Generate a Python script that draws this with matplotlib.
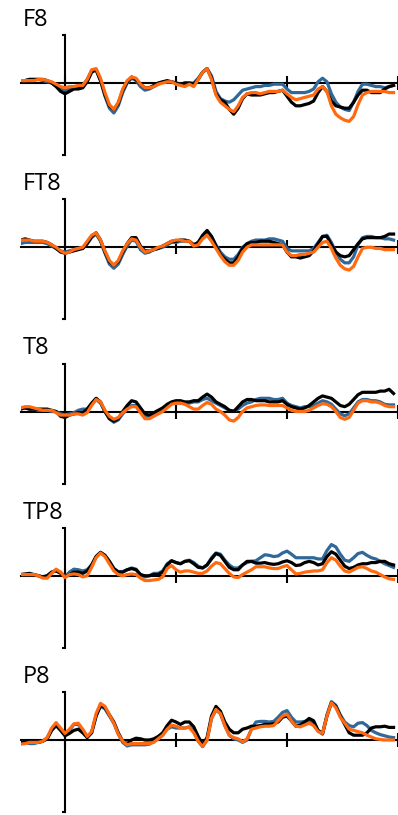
import numpy as np
import matplotlib
matplotlib.use('Agg')
import matplotlib.pyplot as plt

# time axis in ms, one sample every 10 ms
times = np.arange(-100, 741, 10)

channels = ["F8", "FT8", "T8", "TP8", "P8"]

f8_black = [0.1, 0.2, 0.3, 0.3, 0.3, 0.3, 0.2, 0.0,
            -0.3, -0.7, -0.9, -0.7, -0.5, -0.5, -0.4, 0.1, 0.9, 1.1,
            0.2, -1.0, -1.9, -2.2, -1.7, -0.6, 0.1, 0.5, 0.3, -0.1,
            -0.4, -0.4, -0.2, 0.0, 0.1, 0.2, 0.1, 0.0, -0.1, 0.0,
            0.0, -0.1, 0.3, 0.9, 1.2, 0.4, -0.9, -1.4, -1.6, -2.2,
            -2.6, -2.1, -1.3, -0.9, -1.0, -1.0, -1.0, -0.9, -0.8, -0.8,
            -0.7, -0.6, -1.1, -1.6, -1.9, -1.9, -1.8, -1.7, -1.5, -0.8,
            -0.3, -0.7, -1.5, -1.9, -2.0, -2.1, -2.1, -1.6, -1.0, -0.6,
            -0.6, -0.8, -0.8, -0.8, -0.5, -0.3, -0.2]
f8_blue = [0.1, 0.2, 0.3, 0.3, 0.3, 0.2, 0.1, 0.0,
           -0.2, -0.5, -0.6, -0.5, -0.4, -0.3, -0.2, 0.3, 1.0, 1.1,
           0.2, -1.1, -2.1, -2.5, -1.9, -0.8, 0.0, 0.4, 0.2, -0.3,
           -0.6, -0.5, -0.3, -0.1, 0.1, 0.1, 0.1, 0.0, -0.1, 0.0,
           0.0, 0.0, 0.4, 0.9, 1.2, 0.6, -0.7, -1.3, -1.5, -1.6,
           -1.4, -1.0, -0.6, -0.5, -0.4, -0.3, -0.3, -0.2, -0.2, -0.1,
           -0.1, -0.1, -0.5, -0.8, -0.8, -0.8, -0.8, -0.7, -0.5, 0.1,
           0.4, 0.1, -0.9, -1.6, -2.0, -2.2, -2.3, -1.6, -0.7, -0.1,
           -0.1, -0.2, -0.3, -0.3, -0.4, -0.3, -0.2]
f8_orange = [0.2, 0.2, 0.2, 0.2, 0.3, 0.3, 0.2, 0.1,
             -0.1, -0.3, -0.4, -0.3, -0.3, -0.2, -0.2, 0.3, 1.1, 1.2,
             0.4, -0.8, -1.8, -2.2, -1.6, -0.5, 0.2, 0.5, 0.4, -0.1,
             -0.4, -0.4, -0.3, -0.1, 0.0, 0.1, 0.1, -0.1, -0.2, -0.3,
             -0.1, -0.3, 0.3, 0.9, 1.2, 0.3, -1.0, -1.6, -1.9, -2.2,
             -2.4, -1.9, -1.2, -0.9, -0.8, -0.8, -0.9, -0.8, -0.7, -0.7,
             -0.7, -0.6, -0.9, -1.2, -1.4, -1.3, -1.2, -1.1, -1.0, -0.5,
             -0.3, -0.7, -1.9, -2.6, -2.9, -3.1, -3.2, -2.8, -1.8, -1.0,
             -0.8, -0.7, -0.7, -0.7, -0.7, -0.8, -0.8]

ft8_black = [0.6, 0.7, 0.6, 0.5, 0.5, 0.5, 0.4, 0.2,
             -0.1, -0.4, -0.5, -0.4, -0.3, -0.2, -0.1, 0.3, 0.9, 1.2,
             0.6, -0.4, -1.2, -1.5, -1.2, -0.4, 0.3, 0.8, 0.8, 0.1,
             -0.3, -0.3, -0.2, -0.1, 0.1, 0.3, 0.5, 0.5, 0.6, 0.6,
             0.5, 0.2, 0.4, 1.0, 1.4, 0.9, 0.1, -0.6, -1.0, -1.3,
             -1.3, -0.8, -0.1, 0.3, 0.4, 0.4, 0.5, 0.5, 0.5, 0.4,
             0.3, 0.2, -0.4, -0.8, -0.8, -0.9, -0.8, -0.7, -0.3, 0.3,
             0.9, 0.9, 0.2, -0.4, -0.7, -0.8, -0.7, -0.2, 0.3, 0.7,
             0.8, 0.8, 0.8, 0.8, 0.9, 1.1, 1.1]
ft8_blue = [0.3, 0.4, 0.4, 0.4, 0.4, 0.4, 0.3, 0.1,
            -0.1, -0.3, -0.4, -0.3, -0.2, -0.1, -0.1, 0.3, 0.8, 1.1,
            0.5, -0.5, -1.4, -1.75, -1.4, -0.6, 0.1, 0.6, 0.5, -0.2,
            -0.5, -0.4, -0.2, -0.1, 0.0, 0.2, 0.4, 0.4, 0.5, 0.5,
            0.5, 0.2, 0.4, 0.9, 1.3, 0.9, 0.2, -0.4, -0.8, -1.0,
            -1.0, -0.6, 0.0, 0.3, 0.5, 0.6, 0.6, 0.6, 0.7, 0.7,
            0.6, 0.5, -0.1, -0.3, -0.3, -0.3, -0.3, -0.3, -0.1, 0.4,
            0.9, 1.0, 0.4, -0.4, -1.0, -1.3, -1.3, -0.8, 0.2, 0.8,
            0.9, 0.9, 0.8, 0.8, 0.7, 0.7, 0.6]
ft8_orange = [0.6, 0.6, 0.6, 0.5, 0.5, 0.5, 0.4, 0.2,
              0.0, -0.3, -0.5, -0.4, -0.2, -0.1, 0.0, 0.5, 1.0, 1.2,
              0.6, -0.3, -1.1, -1.5, -1.1, -0.3, 0.3, 0.7, 0.6, 0.0,
              -0.4, -0.3, -0.2, 0.0, 0.1, 0.3, 0.5, 0.6, 0.6, 0.5,
              0.5, 0.1, 0.2, 0.7, 1.0, 0.5, -0.1, -0.7, -1.2, -1.5,
              -1.5, -1.1, -0.4, 0.0, 0.2, 0.2, 0.2, 0.2, 0.2, 0.2,
              0.2, 0.2, -0.4, -0.7, -0.7, -0.6, -0.6, -0.5, -0.4, 0.0,
              0.4, 0.5, -0.1, -0.9, -1.5, -1.8, -1.9, -1.6, -0.8, -0.1,
              0.0, 0.0, -0.1, -0.1, -0.2, -0.2, -0.2]

t8_black = [0.2, 0.3, 0.2, 0.2, 0.2, 0.2, 0.2, 0.1,
            0.0, -0.4, -0.5, -0.3, -0.2, -0.1, -0.1, 0.2, 0.7, 1.1,
            0.8, 0.0, -0.6, -0.8, -0.6, 0.0, 0.5, 0.9, 0.8, 0.3,
            -0.2, -0.3, -0.1, 0.1, 0.3, 0.6, 0.8, 0.9, 0.9, 0.8,
            0.8, 0.9, 0.9, 1.2, 1.45, 1.2, 0.8, 0.6, 0.4, 0.1,
            0.0, 0.4, 0.8, 1.0, 1.0, 0.9, 0.9, 0.9, 0.8, 0.8,
            0.8, 0.9, 0.6, 0.4, 0.3, 0.2, 0.3, 0.5, 0.8, 1.1,
            1.3, 1.2, 1.1, 0.8, 0.5, 0.4, 0.6, 1.0, 1.4, 1.6,
            1.6, 1.6, 1.6, 1.7, 1.7, 1.85, 1.5]
t8_blue = [0.2, 0.3, 0.2, 0.2, 0.1, 0.1, 0.1, 0.0,
           0.0, -0.2, -0.3, -0.2, -0.1, 0.1, 0.2, 0.2, 0.6, 1.0,
           0.7, 0.0, -0.6, -0.9, -0.7, -0.2, 0.2, 0.5, 0.5, 0.0,
           -0.5, -0.5, -0.3, -0.1, 0.1, 0.5, 0.7, 0.7, 0.7, 0.7,
           0.7, 0.8, 0.8, 1.0, 1.1, 0.9, 0.7, 0.5, 0.3, 0.1,
           0.05, 0.2, 0.5, 0.7, 0.8, 1.0, 1.1, 1.1, 1.1, 1.0,
           1.0, 1.1, 0.7, 0.5, 0.4, 0.3, 0.4, 0.4, 0.5, 0.7,
           0.9, 0.8, 0.6, 0.2, -0.2, -0.35, -0.2, 0.3, 0.8, 1.0,
           1.0, 0.9, 0.9, 0.8, 0.6, 0.55, 0.55]
t8_orange = [0.3, 0.4, 0.4, 0.3, 0.2, 0.1, 0.1, 0.1,
             -0.1, -0.3, -0.3, -0.3, -0.2, -0.2, -0.3, -0.1, 0.5, 1.0,
             0.8, 0.1, -0.4, -0.65, -0.5, -0.1, 0.2, 0.4, 0.4, -0.1,
             -0.6, -0.6, -0.4, -0.2, 0.0, 0.3, 0.6, 0.7, 0.7, 0.6,
             0.4, 0.2, 0.2, 0.5, 0.75, 0.6, 0.2, 0.0, -0.3, -0.7,
             -0.8, -0.5, 0.0, 0.3, 0.4, 0.5, 0.55, 0.55, 0.5, 0.5,
             0.5, 0.5, 0.3, 0.1, 0.0, 0.0, 0.0, 0.1, 0.3, 0.5,
             0.65, 0.6, 0.4, 0.0, -0.5, -0.65, -0.5, 0.1, 0.7, 0.9,
             0.9, 0.8, 0.8, 0.7, 0.5, 0.4, 0.4]

tp8_black = [0.1, 0.15, 0.2, 0.1, 0.0, -0.1, 0.0, 0.3,
             0.4, 0.2, -0.1, 0.1, 0.3, 0.3, 0.2, 0.4, 0.9, 1.6,
             1.95, 1.7, 1.2, 0.6, 0.3, 0.3, 0.5, 0.6, 0.5, 0.1,
             0.0, 0.0, 0.1, 0.1, 0.3, 0.9, 1.25, 1.1, 1.0, 1.2,
             1.25, 1.0, 0.7, 0.65, 0.9, 1.4, 1.85, 1.7, 1.2, 0.7,
             0.5, 0.5, 0.9, 1.2, 1.2, 1.05, 1.05, 1.1, 1.0, 0.95,
             1.0, 1.15, 1.25, 1.1, 0.85, 0.9, 1.1, 1.2, 1.1, 0.9,
             1.0, 1.6, 2.0, 1.8, 1.3, 0.8, 0.6, 0.7, 0.9, 1.0,
             1.0, 1.1, 1.1, 1.2, 1.2, 1.0, 0.9]
tp8_blue = [0.1, 0.1, 0.1, 0.1, 0.0, -0.1, 0.0, 0.3,
            0.45, 0.3, -0.1, 0.3, 0.55, 0.5, 0.4, 0.5, 0.9, 1.6,
            1.95, 1.7, 1.2, 0.6, 0.35, 0.35, 0.5, 0.65, 0.55, 0.1,
            -0.1, 0.0, 0.2, 0.2, 0.4, 1.0, 1.25, 1.1, 1.0, 1.2,
            1.3, 1.1, 0.8, 0.65, 0.9, 1.5, 1.9, 1.8, 1.3, 0.9,
            0.65, 0.65, 0.9, 1.1, 1.2, 1.25, 1.5, 1.75, 1.7, 1.6,
            1.65, 1.9, 2.05, 1.8, 1.5, 1.5, 1.5, 1.5, 1.5, 1.4,
            1.4, 2.1, 2.6, 2.4, 1.8, 1.3, 1.2, 1.5, 1.85, 1.95,
            1.7, 1.5, 1.4, 1.2, 1.0, 0.85, 0.7]
tp8_orange = [0.1, 0.1, 0.1, 0.1, 0.0, -0.2, -0.2, 0.2,
              0.55, 0.3, -0.15, 0.1, 0.15, 0.1, -0.1, 0.0, 0.7, 1.5,
              1.9, 1.6, 1.0, 0.4, 0.1, 0.0, 0.1, 0.15, 0.1, -0.2,
              -0.4, -0.4, -0.35, -0.3, -0.1, 0.6, 0.85, 0.5, 0.3, 0.4,
              0.4, 0.3, 0.2, 0.2, 0.4, 0.8, 1.1, 1.0, 0.6, 0.2,
              -0.1, -0.15, 0.1, 0.3, 0.5, 0.75, 0.75, 0.75, 0.65, 0.6,
              0.6, 0.75, 0.85, 0.5, 0.15, 0.2, 0.3, 0.35, 0.4, 0.4,
              0.5, 1.1, 1.5, 1.3, 0.8, 0.4, 0.3, 0.5, 0.7, 0.75,
              0.6, 0.4, 0.3, 0.1, -0.1, -0.25, -0.3]

p8_black = [-0.2, -0.2, -0.2, -0.2, -0.2, -0.1, 0.1, 0.8,
            1.2, 0.8, 0.35, 0.55, 0.8, 0.9, 0.6, 0.2, 0.6, 2.0,
            2.9, 2.7, 2.1, 1.5, 0.6, -0.1, -0.3, 0.0, 0.15, 0.1,
            0.0, 0.0, 0.1, 0.3, 0.6, 1.2, 1.65, 1.5, 1.3, 1.5,
            1.5, 1.1, 0.3, -0.4, 0.2, 2.0, 2.8, 2.4, 1.5, 0.9,
            0.6, 0.6, 0.9, 1.0, 1.15, 1.15, 1.2, 1.3, 1.3, 1.35,
            1.5, 1.9, 2.0, 1.6, 1.15, 1.25, 1.5, 1.8, 1.6, 0.8,
            0.5, 2.0, 3.1, 2.8, 2.0, 1.3, 0.6, 0.4, 0.4, 0.4,
            0.6, 1.0, 1.1, 1.1, 1.15, 1.05, 1.05]
p8_blue = [-0.2, -0.2, -0.3, -0.3, -0.2, -0.1, 0.2, 0.9,
           1.3, 0.9, 0.4, 0.8, 1.3, 1.3, 0.8, 0.3, 0.6, 2.0,
           2.8, 2.6, 2.0, 1.4, 0.5, -0.2, -0.5, -0.4, -0.4, -0.4,
           -0.4, -0.35, -0.1, 0.1, 0.4, 0.9, 1.1, 1.0, 1.0, 1.0,
           1.1, 0.7, -0.1, -0.55, 0.0, 1.8, 2.5, 2.2, 1.2, 0.4,
           0.1, 0.0, -0.2, 0.0, 0.9, 1.5, 1.55, 1.55, 1.5, 1.55,
           1.9, 2.3, 2.45, 1.9, 1.5, 1.5, 1.55, 1.65, 1.3, 0.8,
           0.55, 2.1, 3.2, 2.9, 2.1, 1.5, 1.2, 1.1, 1.4, 1.45,
           1.2, 0.8, 0.6, 0.45, 0.35, 0.25, 0.2]
p8_orange = [-0.35, -0.3, -0.2, -0.2, -0.2, -0.1, 0.2, 1.0,
             1.45, 1.0, 0.55, 0.9, 1.35, 1.4, 0.9, 0.3, 0.7, 2.2,
             3.05, 2.8, 2.1, 1.4, 0.5, -0.1, -0.4, -0.3, -0.3, -0.3,
             -0.3, -0.3, -0.2, 0.1, 0.4, 0.9, 1.25, 1.15, 1.0, 1.0,
             1.05, 0.6, -0.1, -0.55, 0.0, 1.8, 2.55, 2.2, 1.2, 0.4,
             0.2, 0.1, -0.15, 0.1, 0.9, 1.0, 1.1, 1.15, 1.15, 1.2,
             1.6, 2.0, 2.15, 1.6, 1.15, 1.1, 1.25, 1.4, 1.2, 0.7,
             0.55, 2.0, 3.1, 2.7, 1.9, 1.4, 0.9, 0.8, 0.7, 0.6,
             0.4, 0.25, 0.1, 0.05, 0.0, 0.0, 0.0]

waves = {
    "F8": (f8_black, f8_blue, f8_orange),
    "FT8": (ft8_black, ft8_blue, ft8_orange),
    "T8": (t8_black, t8_blue, t8_orange),
    "TP8": (tp8_black, tp8_blue, tp8_orange),
    "P8": (p8_black, p8_blue, p8_orange),
}

x_ticks = [0, 250, 500, 750]
y_lim = (-6, 4)
x_lim = (-100, 750)

BLACK = "#000000"
BLUE = "#2f6899"
ORANGE = "#ff6a10"

W, H = 398, 815
fig = plt.figure(figsize=(W / 100, H / 100), dpi=100)

ax_left = 20.6
ax_width = 377.4
ax_height = 120
first_top = 35
step = 164.25

for i, name in enumerate(channels):
    top = first_top + i * step
    ax = fig.add_axes([ax_left / W, 1 - (top + ax_height) / H, ax_width / W, ax_height / H])
    black, blue, orange = waves[name]
    ax.plot(times, blue, color=BLUE, lw=2.3, solid_joinstyle='round', zorder=3)
    ax.plot(times, black, color=BLACK, lw=2.3, solid_joinstyle='round', zorder=4)
    ax.plot(times, orange, color=ORANGE, lw=2.3, solid_joinstyle='round', zorder=5)

    ax.set_xlim(*x_lim)
    ax.set_ylim(*y_lim)
    ax.spines['top'].set_visible(False)
    ax.spines['right'].set_visible(False)
    ax.spines['left'].set_position(('data', 0))
    ax.spines['bottom'].set_position(('data', 0))
    for s in ('left', 'bottom'):
        ax.spines[s].set_linewidth(1.5)
        ax.spines[s].set_zorder(2)
    ax.set_xticks(x_ticks)
    ax.set_yticks(list(y_lim))
    ax.set_xticklabels([])
    ax.set_yticklabels([])
    ax.tick_params(axis='x', direction='inout', length=10, width=1.5)
    ax.tick_params(axis='y', direction='out', length=2.5, width=1.5)
    ax.patch.set_visible(False)
    ax.annotate(name, xy=(0, 1), xycoords='axes fraction', xytext=(1.2, 6.5),
                textcoords='offset points', ha='left', va='baseline',
                fontsize=17, family=['Open Sans', 'DejaVu Sans'])

fig.savefig("out.png", dpi=100)
